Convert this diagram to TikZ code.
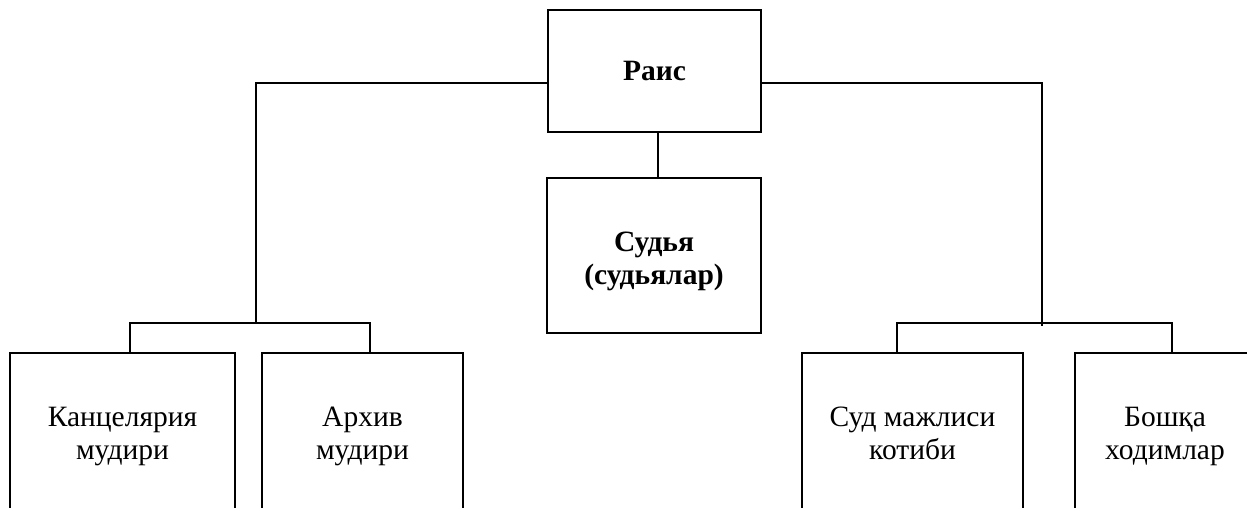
\documentclass[tikz,border=0pt]{standalone}
\usepackage{fontspec}
\setmainfont{Liberation Serif}
\begin{document}
\begin{tikzpicture}[x=1pt,y=-1pt,
  box/.style={draw,line width=1.5pt,rectangle,inner sep=0pt,align=center,
    font=\fontsize{29.5}{33}\selectfont},
  txt/.style={inner sep=0pt,align=center,font=\fontsize{29.5}{33}\selectfont\bfseries},
  conn/.style={line width=1.5pt}]
\useasboundingbox (0,0) rectangle (1247,508);
\clip (0,0) rectangle (1247,508);
\node[box,font=\fontsize{29.5}{33}\selectfont\bfseries,minimum width=213pt,minimum height=122pt] (rais) at (654.5,71) {Раис};
\node[box,minimum width=214pt,minimum height=155pt] (sud) at (654,255.5) {};
\node[txt] (sudt) at (654,261) {\strut Судья\\\strut (судьялар)};
\node[box,minimum width=225pt,minimum height=166pt] (kanc) at (122.5,436) {\strut Канцелярия\\\strut мудири};
\node[box,minimum width=201pt,minimum height=166pt] (arch) at (362.5,436) {\strut Архив\\\strut мудири};
\node[box,minimum width=221pt,minimum height=166pt] (sudm) at (912.5,436) {\strut Суд мажлиси\\\strut котиби};
\node[box,minimum width=180pt,minimum height=166pt] (bosh) at (1165,436) {\strut Бошқа\\\strut ходимлар};
\coordinate (lt) at (256,83);
\coordinate (lb) at (256,323);
\coordinate (rt) at (1042,83);
\coordinate (rb) at (1042,326);
\coordinate (kc) at (130,323);
\coordinate (ac) at (370,323);
\coordinate (sc) at (897,323);
\coordinate (bc) at (1172,323);
\coordinate (mid) at (658,0);
\draw[conn] (rais.west |- lt) -- (lt) -- (lb);
\draw[conn] (rais.east |- rt) -- (rt) -- (rb);
\draw[conn] (rais.south -| mid) -- (sud.north -| mid);
\draw[conn] (kanc.north -| kc) -- (kc) -- (ac) -- (arch.north -| ac);
\draw[conn] (sudm.north -| sc) -- (sc) -- (bc) -- (bosh.north -| bc);
\end{tikzpicture}
\end{document}
